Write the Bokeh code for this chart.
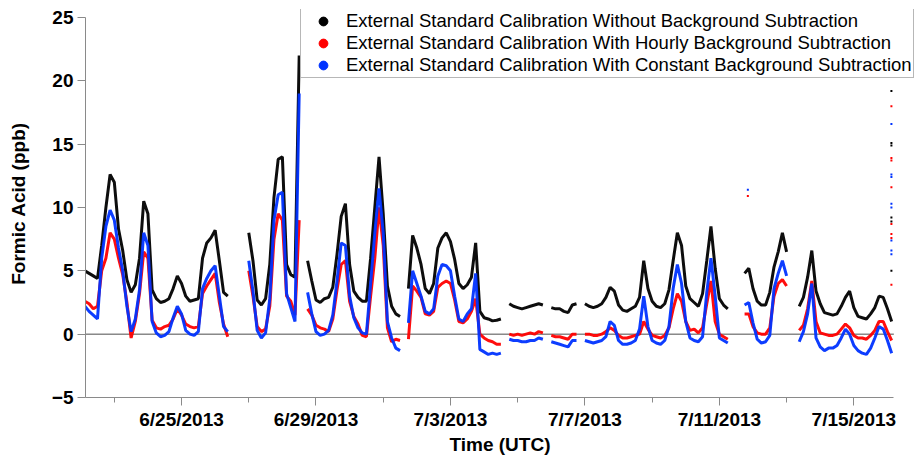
import calendar
from datetime import datetime, timedelta

from bokeh.embed import file_html
from bokeh.models import (ColumnDataSource, CustomJSTickFormatter, FixedTicker,
                          Legend, LegendItem, Range1d)
from bokeh.plotting import figure
from bokeh.resources import INLINE

nan = float("nan")

# Formic acid (ppb), 3-hourly samples starting 2013-06-22 03:00 UTC; nan = no data
START = datetime(2013, 6, 22, 3, 0)
STEP_HOURS = 3

no_background = [
    5.0, 4.8, 4.6, 4.4, 7.0, 10.0, 12.6, 12.0, 8.3, 6.6,
    4.3, 3.3, 3.9, 6.0, 10.5, 9.5, 3.5, 2.8, 2.5, 2.6,
    2.8, 3.6, 4.6, 4.0, 3.0, 2.6, 2.7, 2.8, 6.0, 7.2,
    7.6, 8.2, 5.8, 3.3, 3.0, nan, nan, nan, nan, 8.0,
    5.8, 2.7, 2.3, 2.8, 5.5, 10.8, 13.8, 14.0, 5.5, 4.7,
    4.5, 22.0, nan, 5.8, 4.2, 2.7, 2.5, 2.8, 2.9, 3.7,
    6.3, 9.3, 10.3, 5.5, 3.4, 2.9, 2.6, 2.6, 6.0, 10.0,
    14.0, 9.5, 3.8, 2.2, 1.6, 1.4, nan, 3.6, 7.8, 6.8,
    5.5, 3.6, 3.2, 4.0, 6.8, 7.6, 8.0, 7.3, 5.9, 4.0,
    3.6, 3.9, 4.5, 7.2, 1.8, 1.3, 1.2, 1.05, 1.1, 1.2,
    nan, 2.4, 2.2, 2.1, 2.0, 2.1, 2.2, 2.3, 2.4, 2.3,
    nan, 2.1, 2.0, 2.0, 1.8, 1.7, 2.3, 2.4, nan, 2.4,
    2.2, 2.1, 2.2, 2.4, 2.9, 3.7, 3.4, 2.3, 1.9, 1.8,
    2.0, 2.2, 2.9, 5.8, 3.6, 2.6, 2.2, 2.1, 2.4, 3.5,
    5.8, 8.0, 7.0, 3.8, 2.8, 2.5, 2.2, 3.2, 5.8, 8.5,
    5.2, 2.8, 2.3, 2.0, nan, nan, nan, 4.8, 5.2, 3.6,
    2.6, 2.3, 2.3, 3.3, 5.3, 6.5, 8.0, 6.5, nan, nan,
    2.2, 2.9, 4.5, 6.6, 3.4, 2.4, 1.7, 1.6, 1.5, 1.6,
    2.2, 2.9, 3.4, 2.1, 1.4, 1.3, 1.2, 1.6, 2.1, 3.0,
    2.9, 2.0, 1.0,
]

hourly_background = [
    2.6, 2.4, 2.0, 2.2, 5.0, 6.0, 8.0, 7.5, 6.0, 4.7,
    2.5, -0.3, 1.0, 3.2, 6.5, 6.0, 1.1, 0.5, 0.4, 0.6,
    0.7, 1.2, 2.0, 1.5, 0.8, 0.6, 0.5, 0.6, 3.2, 3.8,
    4.3, 4.8, 2.5, 0.8, -0.2, nan, nan, nan, nan, 5.0,
    3.0, 0.6, 0.2, 0.4, 2.2, 7.5, 9.5, 9.0, 3.0, 2.6,
    1.5, 9.0, nan, 2.0, 1.5, 0.7, 0.5, 0.4, 0.2, 1.2,
    3.5, 5.5, 5.8, 2.6, 1.4, 0.8, -0.1, -0.2, 3.0, 6.0,
    10.0, 7.0, 0.5, -0.6, -0.4, -0.5, nan, -0.4, 3.8, 3.4,
    2.9, 1.6, 1.5, 1.8, 3.7, 4.0, 4.2, 4.0, 2.7, 1.0,
    0.9, 1.2, 1.8, 2.8, 0.0, -0.3, -0.5, -0.6, -0.8, -0.8,
    nan, 0.0, -0.1, 0.0, -0.1, 0.0, 0.1, 0.0, 0.2, 0.1,
    nan, -0.1, -0.2, -0.2, -0.3, -0.4, 0.0, 0.0, nan, 0.0,
    0.0, -0.1, -0.1, 0.0, 0.2, 0.5, 0.3, -0.1, -0.3, -0.3,
    -0.2, -0.1, 0.0, 1.0, 0.4, -0.1, -0.2, -0.3, -0.1, 0.5,
    2.0, 3.2, 2.6, 1.0, 0.3, 0.4, 0.1, 0.5, 2.4, 4.2,
    1.0, 0.0, -0.2, -0.4, nan, nan, nan, 1.6, 1.6, 0.6,
    0.1, 0.0, 0.0, 0.5, 3.0, 4.0, 4.3, 3.8, nan, nan,
    0.3, 0.7, 2.0, 4.2, 1.0, 0.1, 0.0, -0.1, -0.1, 0.0,
    0.4, 0.8, 0.5, -0.1, -0.3, -0.3, -0.4, -0.1, 0.3, 1.0,
    1.0, 0.2, -0.5,
]

constant_background = [
    2.2, 1.8, 1.5, 1.2, 6.0, 8.5, 9.8, 9.0, 6.8, 5.0,
    2.2, 0.2, 1.2, 3.5, 8.0, 7.0, 1.0, 0.1, -0.2, -0.1,
    0.2, 1.3, 2.2, 1.6, 0.3, 0.0, -0.1, 0.2, 3.6, 4.4,
    5.0, 5.4, 3.0, 0.6, 0.2, nan, nan, nan, nan, 5.8,
    3.4, 0.3, -0.3, 0.1, 2.8, 9.0, 11.0, 11.2, 3.2, 2.1,
    1.0, 19.0, nan, 3.3, 1.6, 0.2, -0.1, 0.0, 0.3, 1.5,
    4.2, 7.2, 7.0, 3.0, 1.3, 0.5, 0.1, 0.0, 4.0, 8.0,
    11.5, 8.0, 1.0, -0.3, -1.1, -1.3, nan, 0.9, 5.0, 4.0,
    3.0, 1.8, 1.6, 2.0, 4.6, 5.5, 5.4, 5.0, 3.0, 1.2,
    1.0, 1.6, 2.0, 4.8, -1.2, -1.4, -1.6, -1.5, -1.6, -1.5,
    nan, -0.4, -0.5, -0.5, -0.6, -0.6, -0.5, -0.5, -0.3, -0.4,
    nan, -0.6, -0.7, -0.8, -0.9, -1.0, -0.5, -0.5, nan, -0.5,
    -0.6, -0.7, -0.6, -0.5, -0.2, 1.0, 0.7, -0.5, -0.8, -0.8,
    -0.7, -0.5, 0.4, 3.0, 0.6, -0.5, -0.7, -0.8, -0.5, 0.6,
    3.6, 5.5, 4.0, 1.0, -0.3, -0.5, -0.6, -0.2, 3.3, 6.0,
    3.0, -0.3, -0.5, -0.7, nan, nan, nan, 2.3, 2.5, 0.9,
    -0.4, -0.7, -0.6, -0.1, 3.6, 4.8, 5.8, 4.6, nan, nan,
    -0.6, 0.2, 1.6, 4.0, -0.3, -1.0, -1.3, -1.1, -1.1, -0.9,
    -0.3, 0.4, 0.0, -0.9, -1.3, -1.5, -1.6, -1.1, -0.3, 0.6,
    0.4, -0.5, -1.5,
]

# isolated single readings away from the main record
spike_times = [datetime(2013, 7, 11, 20, 20), datetime(2013, 7, 16, 2, 50)]
no_background_spikes = [[], [19.2, 15.1, 14.9, 9.2, 8.9, 5.0]]
hourly_background_spikes = [[10.9], [18.0, 13.9, 13.7, 11.6, 8.7, 7.9, 7.6, 3.9]]
constant_background_spikes = [[11.4], [16.6, 12.6, 12.4, 10.3, 10.0, 7.4, 6.6, 6.3]]

series_labels = [
    "External Standard Calibration Without Background Subtraction",
    "External Standard Calibration With Hourly Background Subtraction",
    "External Standard Calibration With Constant Background Subtraction",
]
series_colors = ["#000000", "#ff0000", "#0033ff"]

major_dates = [datetime(2013, 6, 25), datetime(2013, 6, 29), datetime(2013, 7, 3),
               datetime(2013, 7, 7), datetime(2013, 7, 11), datetime(2013, 7, 15)]
minor_dates = [datetime(2013, 6, 23), datetime(2013, 6, 27), datetime(2013, 7, 1),
               datetime(2013, 7, 5), datetime(2013, 7, 9), datetime(2013, 7, 13)]
y_ticks = [-5, 0, 5, 10, 15, 20, 25]

# axis extents; the plotting frame is a little larger so the legend can sit
# above the top of the y axis and past the end of the time axis
T_AXIS_START = datetime(2013, 6, 22, 3, 26)
T_AXIS_END = datetime(2013, 7, 16, 4, 34)
T_FRAME_END = datetime(2013, 7, 16, 19, 19)
Y_AXIS = (-5, 25)
Y_FRAME_TOP = 25.63


def to_ms(d):
    return calendar.timegm(d.timetuple()) * 1000.0


times = [START + timedelta(hours=STEP_HOURS * i) for i in range(len(no_background))]

FONT = "Liberation Sans"
AXIS_GRAY = "#8a8a8a"

p = figure(
    frame_width=829, frame_height=388,
    min_border_left=85, min_border_right=0, min_border_top=9, min_border_bottom=58,
    x_axis_type="datetime",
    x_range=Range1d(T_AXIS_START, T_FRAME_END),
    y_range=Range1d(Y_AXIS[0], Y_FRAME_TOP),
    output_backend="svg", toolbar_location=None,
    background_fill_color="white", border_fill_color="white",
)
p.outline_line_color = None
p.xgrid.visible = False
p.ygrid.visible = False

# zero reference line across the time axis
p.segment(x0=[T_AXIS_START], y0=[0], x1=[T_AXIS_END], y1=[0],
          line_color="#4d4d4d", line_width=1)

# the three time series, drawn as thick traces broken at missing data
series = [no_background, hourly_background, constant_background]
spikes = [no_background_spikes, hourly_background_spikes, constant_background_spikes]
legend_items = []
for values, spk, color, label in zip(series, spikes, series_colors, series_labels):
    src = ColumnDataSource(data=dict(t=times, v=values))
    p.line("t", "v", source=src, line_color=color, line_width=3, line_alpha=0.95)
    st, sv = [], []
    for t0, vals in zip(spike_times, spk):
        st += [t0] * len(vals)
        sv += vals
    p.scatter(x=st, y=sv, marker="square", size=2, fill_color=color, line_color=None)
    # legend key: one marker placed left of the visible time range
    key = p.scatter(x=[START - timedelta(days=30)], y=[0], marker="circle", size=10,
                    fill_color=color, line_color=color)
    legend_items.append(LegendItem(label=label, renderers=[key]))

# axes
xa = p.xaxis[0]
xa.bounds = (to_ms(T_AXIS_START), to_ms(T_AXIS_END))
xa.ticker = FixedTicker(ticks=[to_ms(d) for d in major_dates],
                        minor_ticks=[to_ms(d) for d in minor_dates])
xa.formatter = CustomJSTickFormatter(code="""
const d = new Date(tick);
return (d.getUTCMonth() + 1) + '/' + d.getUTCDate() + '/' + d.getUTCFullYear();
""")
xa.axis_label = "Time (UTC)"
xa.major_tick_out = 8
xa.major_tick_in = 0
xa.minor_tick_out = 5
xa.minor_tick_in = 0
xa.major_label_standoff = 3
xa.axis_label_standoff = 1

ya = p.yaxis[0]
ya.bounds = Y_AXIS
ya.ticker = FixedTicker(ticks=y_ticks, minor_ticks=[])
ya.axis_label = "Formic Acid (ppb)"
ya.major_tick_out = 8
ya.major_tick_in = 0
ya.minor_tick_out = 0
ya.minor_tick_in = 0
ya.major_label_standoff = 4
ya.axis_label_standoff = 20

for ax in (xa, ya):
    ax.axis_line_color = AXIS_GRAY
    ax.axis_line_width = 1
    ax.major_tick_line_color = AXIS_GRAY
    ax.minor_tick_line_color = AXIS_GRAY
    ax.major_label_text_font = FONT
    ax.major_label_text_font_style = "bold"
    ax.major_label_text_font_size = "19px"
    ax.major_label_text_color = "black"
    ax.axis_label_text_font = FONT
    ax.axis_label_text_font_style = "bold"
    ax.axis_label_text_font_size = "19px"
    ax.axis_label_text_color = "black"

legend = Legend(
    items=legend_items,
    location=(215, 319),
    orientation="vertical",
    border_line_color="#707070",
    border_line_width=1,
    background_fill_color="white",
    background_fill_alpha=1.0,
    label_text_font=FONT,
    label_text_font_size="18.5px",
    label_text_line_height=1.0,
    label_text_color="black",
    glyph_width=42,
    glyph_height=22,
    label_height=22,
    label_standoff=2,
    spacing=0,
    padding=1,
    margin=0,
)
p.add_layout(legend)

open("out.html", "w").write(file_html(p, INLINE))
